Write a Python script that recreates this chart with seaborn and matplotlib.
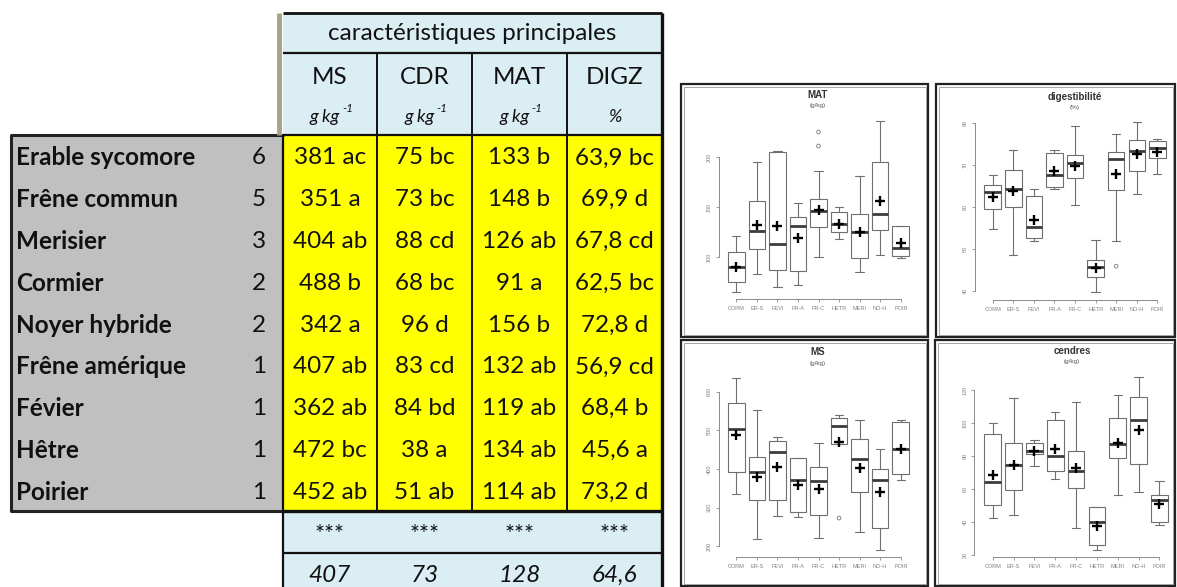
import matplotlib
matplotlib.use("Agg")
import matplotlib.pyplot as plt
import numpy as np
import pandas as pd
import seaborn as sns
from matplotlib.patches import Rectangle

# ---------------- table data ----------------
species = ["Erable sycomore", "Frêne commun", "Merisier", "Cormier", "Noyer hybride",
           "Frêne amérique", "Févier", "Hêtre", "Poirier"]
counts = ["6", "5", "3", "2", "2", "1", "1", "1", "1"]
col_names = ["MS", "CDR", "MAT", "DIGZ"]
col_units = ["g kg", "g kg", "g kg", "%"]
tbl_ms = ["381 ac", "351 a", "404 ab", "488 b", "342 a", "407 ab", "362 ab", "472 bc", "452 ab"]
tbl_cdr = ["75 bc", "73 bc", "88 cd", "68 bc", "96 d", "83 cd", "84 bd", "38 a", "51 ab"]
tbl_mat = ["133 b", "148 b", "126 ab", "91 a", "156 b", "132 ab", "119 ab", "134 ab", "114 ab"]
tbl_digz = ["63,9 bc", "69,9 d", "67,8 cd", "62,5 bc", "72,8 d", "56,9 cd", "68,4 b", "45,6 a", "73,2 d"]
tbl_signif = ["***", "***", "***", "***"]
tbl_means = ["407", "73", "128", "64,6"]
header_title = "caractéristiques principales"

# ---------------- boxplot data ----------------
codes = ["CORM", "ER-S", "FEVI", "FR-A", "FR-C", "HETR", "MERI", "NO-H", "POIR"]

mat_lo = [65, 83, 70, 72, 100, 118, 85, 102, 99]
mat_q1 = [75, 108, 87, 86, 130, 125, 99, 127, 101]
mat_med = [90, 126, 113, 131, 146, 133, 125, 143, 109]
mat_q3 = [105, 156, 205, 140, 158, 145, 143, 195, 131]
mat_hi = [121, 195, 206, 154, 186, 150, 181, 236, 131]
mat_mean = [90, 132, 131, 119, 147, 133, 125, 156, 114]
mat_out_code = ["FR-C", "FR-C"]
mat_out_val = [211, 225]

dig_lo = [54.8, 48.5, 51.9, 64.3, 60.4, 39.7, 51.9, 63.0, 67.7]
dig_q1 = [59.4, 60.0, 52.5, 64.7, 66.9, 43.3, 63.9, 68.5, 71.5]
dig_med = [63.5, 64.3, 55.3, 67.5, 70.4, 45.6, 71.4, 73.3, 73.9]
dig_q3 = [65.1, 68.8, 62.5, 72.7, 72.3, 47.4, 73.0, 76.0, 75.7]
dig_hi = [67.5, 73.5, 64.2, 73.6, 79.3, 52.1, 77.3, 80.2, 76.1]
dig_mean = [62.4, 63.8, 56.8, 68.5, 69.7, 45.5, 67.7, 72.6, 73.0]
dig_out_code = ["MERI"]
dig_out_val = [45.9]

ms_lo = [335, 220, 278, 277, 222, 465, 236, 191, 372]
ms_q1 = [391, 320, 320, 290, 281, 465, 341, 247, 388]
ms_med = [503, 391, 445, 372, 369, 511, 426, 372, 452]
ms_q3 = [572, 430, 473, 428, 404, 531, 478, 400, 521]
ms_hi = [636, 552, 483, 428, 468, 539, 527, 451, 527]
ms_mean = [488, 379, 405, 359, 348, 471, 402, 341, 451]
ms_out_code = ["HETR"]
ms_out_val = [273]

cen_lo = [42.4, 44.0, 74.1, 65.9, 36.2, 23.0, 56.2, 58.0, 38.2]
cen_q1 = [50.1, 59.2, 81.0, 70.9, 60.8, 26.1, 78.6, 75.2, 40.0]
cen_med = [64.2, 74.7, 83.2, 80.2, 71.1, 40.0, 87.1, 102.0, 53.3]
cen_q3 = [93.1, 87.9, 87.7, 101.8, 82.8, 49.1, 102.8, 115.6, 56.2]
cen_hi = [99.8, 115.4, 89.7, 106.9, 112.9, 49.1, 116.8, 127.9, 65.1]
cen_mean = [68.3, 74.7, 83.2, 84.2, 72.9, 37.6, 87.7, 95.8, 50.9]
cen_out_code = []
cen_out_val = []

# ---------------- figure ----------------
W, H = 1177, 587
sns.set_theme(style="white")
plt.rcParams["font.family"] = ["Lato", "DejaVu Sans"]

fig = plt.figure(figsize=(W / 100, H / 100), dpi=100)
fig.patch.set_facecolor("white")
bg = fig.add_axes([0, 0, 1, 1])
bg.set_xlim(0, W)
bg.set_ylim(H, 0)
bg.axis("off")

# ---- table layout ----
BLUE = "#dbeef4"
YELLOW = "#ffff00"
GREY = "#c0c0c0"
edges = [283, 377, 472, 567, 662]
centers = [(edges[i] + edges[i + 1]) / 2 for i in range(4)]
y_top, y_hline, y_body0, row_h = 13, 53, 135, 41.8
y_body1 = y_body0 + 9 * row_h
y_sig1 = 553
FS = 17.5

bg.add_patch(Rectangle((edges[0], y_top), edges[-1] - edges[0], y_body0 - y_top, fc=BLUE, ec="none"))
bg.add_patch(Rectangle((edges[0], y_body1), edges[-1] - edges[0], H - y_body1, fc=BLUE, ec="none"))
bg.add_patch(Rectangle((edges[0], y_body0), edges[-1] - edges[0], y_body1 - y_body0, fc=YELLOW, ec="none"))
bg.add_patch(Rectangle((11, y_body0), edges[0] - 11, y_body1 - y_body0, fc=GREY, ec="none"))
bg.plot([11, 11], [y_body0, y_body1], color="#222", lw=2.2, solid_capstyle="butt")
bg.plot([11, edges[0]], [y_body0, y_body0], color="#222", lw=2.2)
bg.plot([11, edges[0]], [y_body1, y_body1], color="#222", lw=2.2)
bg.plot([278.5, 278.5], [y_top, y_body0], color="#a8a287", lw=3.5, solid_capstyle="butt")
for yy, lw in [(y_top, 2.0), (y_hline, 1.6), (y_body0, 1.6), (y_body1, 2.4), (y_sig1, 1.6)]:
    bg.plot([edges[0], edges[-1]], [yy, yy], color="#111", lw=lw, solid_capstyle="butt")
for xx in edges[1:-1]:
    bg.plot([xx, xx], [y_hline, y_body1], color="#111", lw=1.4, solid_capstyle="butt")
bg.plot([edges[0], edges[0]], [y_body0, H], color="#111", lw=1.6, solid_capstyle="butt")
bg.plot([edges[-1], edges[-1]], [y_top, H], color="#111", lw=2.4, solid_capstyle="butt")

bg.text((edges[0] + edges[-1]) / 2, 33, header_title, ha="center", va="center", fontsize=FS, color="#111")
for i in range(4):
    bg.text(centers[i], 77, col_names[i], ha="center", va="center", fontsize=FS, color="#111")
    if col_units[i] == "%":
        bg.text(centers[i], 117, col_units[i], ha="center", va="center", fontsize=13, style="italic", color="#111")
    else:
        bg.text(centers[i] + 10, 117, col_units[i], ha="right", va="center", fontsize=13, style="italic", color="#111")
        bg.text(centers[i] + 12, 108, "-1", ha="left", va="center", fontsize=8.5, style="italic", color="#111")

cols = [tbl_ms, tbl_cdr, tbl_mat, tbl_digz]
for r in range(9):
    yc = y_body0 + (r + 0.5) * row_h + 2
    bg.text(16, yc, species[r], ha="left", va="center", fontsize=FS, fontweight="bold", color="#111")
    bg.text(266, yc, counts[r], ha="right", va="center", fontsize=FS, color="#111")
    for c in range(4):
        bg.text(centers[c], yc, cols[c][r], ha="center", va="center", fontsize=FS, color="#111")
for c in range(4):
    bg.text(centers[c], 535, tbl_signif[c], ha="center", va="center", fontsize=17, color="#111")
    bg.text(centers[c], 575, tbl_means[c], ha="center", va="center", fontsize=FS, style="italic", color="#111")

# ---- panel frames ----
frames = [(681, 84, 247, 253), (936, 84, 239, 253), (681, 340, 247, 246), (935, 340, 240, 246)]
for (fx, fy, fw, fh) in frames:
    bg.add_patch(Rectangle((fx, fy), fw, fh, fc="none", ec="#222", lw=1.6))
    bg.add_patch(Rectangle((fx + 2.5, fy + 2.5), fw - 5, fh - 5, fc="none", ec="#999", lw=0.6))

PF = ["Liberation Sans", "DejaVu Sans"]


def draw_panel(title, sub, tx, ty, x0, dx, a, b, ylim, ticks, spine_x, spine_y,
               lo, q1, med, q3, hi, mean, out_code, out_val):
    (va_, pa), (vb, pb) = a, b
    ppu = (pb - pa) / (va_ - vb)
    top = pa - (ylim[1] - va_) * ppu
    bot = pa + (va_ - ylim[0]) * ppu
    xlo, xhi = -0.6, 8.6
    left = x0 + xlo * dx
    right = x0 + xhi * dx
    ax = fig.add_axes([left / W, 1 - bot / H, (right - left) / W, (bot - top) / H])
    ax.patch.set_alpha(0)
    df = pd.DataFrame({
        "code": np.repeat(codes, 5),
        "val": np.column_stack([lo, q1, med, q3, hi]).ravel(),
    })
    sns.boxplot(data=df, x="code", y="val", order=codes, ax=ax, whis=(0, 100), width=0.8,
                color="white", linecolor="#6f6f6f", linewidth=0.8, showfliers=False,
                medianprops=dict(color="#3c3c3c", linewidth=2.0))
    sns.scatterplot(x=np.arange(len(codes)), y=mean, marker="+", s=45, color="black",
                    linewidth=1.7, ax=ax, zorder=6)
    if out_code:
        sns.scatterplot(x=[codes.index(c) for c in out_code], y=out_val, marker="o", s=7,
                        facecolor="none", edgecolor="#888", linewidth=0.7, ax=ax, zorder=6)
    ax.set_xlim(xlo, xhi)
    ax.set_ylim(*ylim)
    ax.set_xlabel("")
    ax.set_ylabel("")
    for s in ["top", "right"]:
        ax.spines[s].set_visible(False)
    for s in ["left", "bottom"]:
        ax.spines[s].set_visible(True)
        ax.spines[s].set_color("#8a8a8a")
        ax.spines[s].set_linewidth(0.7)
    ax.spines["left"].set_bounds(ticks[0], ticks[-1])
    ax.spines["bottom"].set_bounds(0, len(codes) - 1)
    ax.spines["left"].set_position(("outward", (left - spine_x) * 0.72))
    ax.spines["bottom"].set_position(("outward", (spine_y - bot) * 0.72))
    ax.tick_params(axis="both", which="both", bottom=True, left=True, length=2.5, width=0.6,
                   color="#8a8a8a", direction="out", pad=2.5, labelsize=4,
                   labelcolor="#808080")
    ax.tick_params(axis="y", labelrotation=90)
    ax.set_xticks(range(len(codes)))
    ax.set_xticklabels(codes)
    ax.set_yticks(ticks)
    ax.set_yticklabels([str(t) for t in ticks])
    for lab in ax.get_xticklabels() + ax.get_yticklabels():
        lab.set_fontfamily(PF)
        lab.set_fontsize(4)
    for lab in ax.get_yticklabels():
        lab.set_va("center")
    ax.grid(False)
    bg.text(tx, ty, title, ha="center", va="center", fontsize=7, fontweight="bold",
            color="#333", family=PF)
    bg.text(tx, ty + 11, sub, ha="center", va="center", fontsize=4.6, color="#555", family=PF)
    return ax


draw_panel("MAT", "(g/kg)", 818, 95, 736.3, 20.55, (200, 157), (100, 257), (62, 240),
           [100, 150, 200], 718.7, 299, mat_lo, mat_q1, mat_med, mat_q3, mat_hi, mat_mean,
           mat_out_code, mat_out_val)
draw_panel("digestibilité", "(%)", 1075, 97, 992.7, 20.58, (80, 122.7), (40, 291), (39, 81),
           [40, 50, 60, 70, 80], 975, 300, dig_lo, dig_q1, dig_med, dig_q3, dig_hi, dig_mean,
           dig_out_code, dig_out_val)
draw_panel("MS", "(g/kg)", 818, 352, 736.3, 20.55, (600, 391.7), (200, 546.3), (185, 650),
           [200, 300, 400, 500, 600], 718.7, 556.7, ms_lo, ms_q1, ms_med, ms_q3, ms_hi, ms_mean,
           ms_out_code, ms_out_val)
draw_panel("cendres", "(g/kg)", 1072, 351, 992.7, 20.83, (120, 390), (20, 555), (19.5, 130),
           [20, 40, 60, 80, 100, 120], 974.3, 556.7, cen_lo, cen_q1, cen_med, cen_q3, cen_hi,
           cen_mean, cen_out_code, cen_out_val)

fig.savefig("out.png", dpi=100)
